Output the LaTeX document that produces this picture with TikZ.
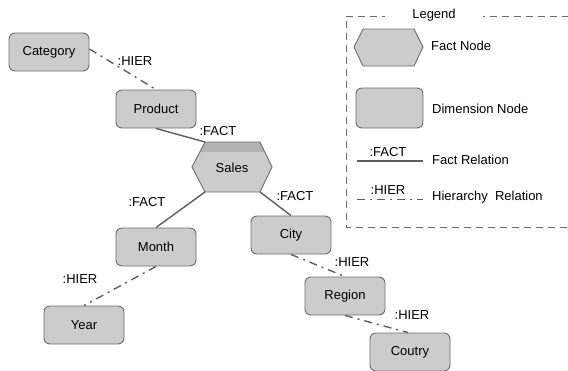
\documentclass[tikz,border=0pt]{standalone}
\usepackage{fontspec}
\setmainfont{Liberation Sans}
\definecolor{boxfill}{RGB}{204,204,204}
\definecolor{boxdraw}{RGB}{110,110,110}
\definecolor{linecol}{RGB}{95,95,95}
\definecolor{bandcol}{RGB}{178,178,178}
\tikzset{
  dimnode/.style={draw=boxdraw, fill=boxfill, rounded corners=6pt, minimum width=80pt, minimum height=38pt, line width=0.9pt, inner sep=0pt},
  factrel/.style={draw=linecol, line width=1.4pt},
  hierrel/.style={draw=linecol, line width=1.4pt, dash pattern=on 8pt off 5pt on 2pt off 5pt},
  lbl/.style={inner sep=0pt},
  txt/.style={font=\fontsize{13}{15}\selectfont}
}
\begin{document}
\begin{tikzpicture}[x=1pt,y=-1pt,txt]
\useasboundingbox (0,0) rectangle (568,370);
\fill[white] (0,0) rectangle (568,370);

% Sales hexagon
\coordinate (stl) at (205,142);
\coordinate (str) at (260,142);
\coordinate (sr) at (272,167);
\coordinate (sbr) at (260,192);
\coordinate (sbl) at (205,192);
\coordinate (sl) at (192,167);
\fill[boxfill] (stl) -- (str) -- (sr) -- (sbr) -- (sbl) -- (sl) -- cycle;
\begin{scope}
\clip (stl) -- (str) -- (sr) -- (sbr) -- (sbl) -- (sl) -- cycle;
\fill[bandcol] (190,140) rectangle (275,152);
\end{scope}
\draw[boxdraw, line width=0.9pt] (stl) -- (str) -- (sr) -- (sbr) -- (sbl) -- (sl) -- cycle;
\node[lbl] (sales) at (232,168) {Sales};

% dimension nodes
\node[dimnode] (cat) at (49,52) {Category};
\node[dimnode] (prod) at (156,109) {Product};
\node[dimnode] (month) at (156,247) {Month};
\node[dimnode] (year) at (84,325) {Year};
\node[dimnode] (city) at (291,235) {City};
\node[dimnode] (region) at (345,296) {Region};
\node[dimnode] (coutry) at (410,352) {Coutry};

% relations
\draw[hierrel] ([yshift=3pt]cat.east) -- (prod.north);
\draw[factrel] (prod.south) -- (stl);
\draw[factrel] (sbl) -- (month.north);
\draw[factrel] (sbr) -- (city.north);
\draw[hierrel] (month.south) -- (year.north);
\draw[hierrel] (city.south) -- (region.north);
\draw[hierrel] (region.south) -- ([xshift=-2pt]coutry.north);

% relation labels
\node[lbl] (l1) at (135,61) {:HIER};
\node[lbl] (l2) at (218,131) {:FACT};
\node[lbl] (l3) at (147,202) {:FACT};
\node[lbl] (l4) at (295,196) {:FACT};
\node[lbl] (l5) at (80,279) {:HIER};
\node[lbl] (l6) at (352,262) {:HIER};
\node[lbl] (l7) at (412,315) {:HIER};

% legend
\draw[boxdraw, line width=0.9pt, dash pattern=on 7pt off 5pt] (569,16) -- (346,16) -- (346,227) -- (569,227);
\node[fill=white, inner xsep=27pt, inner ysep=3pt] (legend) at (434,15) {Legend};
\coordinate (ltl) at (363,29);
\coordinate (ltr) at (414,29);
\coordinate (lr) at (423,47);
\coordinate (lbr) at (414,66);
\coordinate (lbl) at (363,66);
\coordinate (ll) at (354,47);
\draw[boxdraw, fill=boxfill, line width=0.9pt] (ltl) -- (ltr) -- (lr) -- (lbr) -- (lbl) -- (ll) -- cycle;
\node[lbl, anchor=west] (tfact) at (431,46) {Fact Node};
\node[dimnode, minimum width=67pt, minimum height=40pt] (ldim) at (389.5,108) {};
\node[lbl, anchor=west] (tdim) at (432,109) {Dimension Node};
\coordinate (fa) at (357,161);
\coordinate (fb) at (423,161);
\draw[factrel] (fa) -- (fb);
\node[lbl] (lfact) at (388,152) {:FACT};
\node[lbl, anchor=west] (tfrel) at (432,160) {Fact Relation};
\coordinate (ha) at (357,199);
\coordinate (hb) at (423,199);
\draw[hierrel, line width=1pt] (ha) -- (hb);
\node[lbl] (lhier) at (388,190) {:HIER};
\node[lbl, anchor=west] (threl) at (432,197) {Hierarchy\ \ Relation};
\end{tikzpicture}
\end{document}
